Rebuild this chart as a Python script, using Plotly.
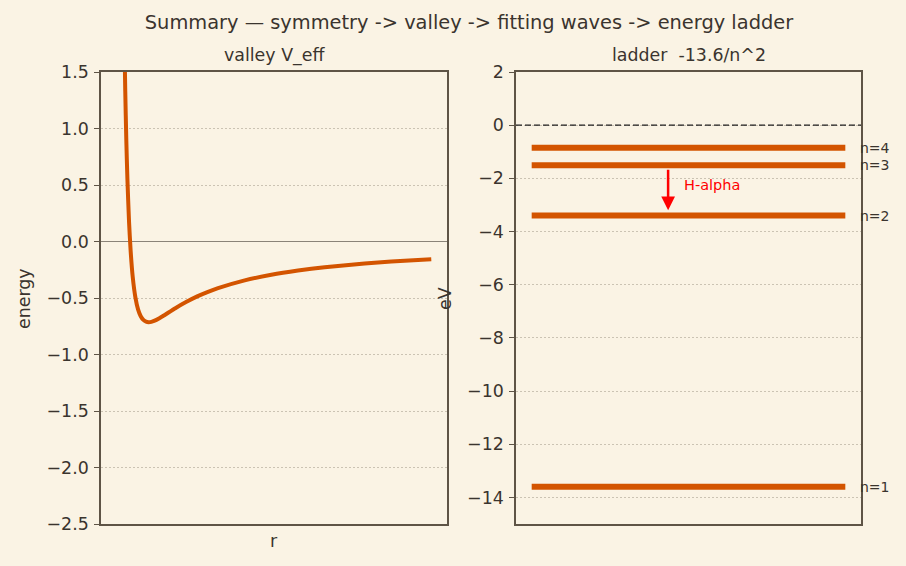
import plotly.graph_objects as go

# ---- data ----
r_vals = [0.22, 0.24, 0.26, 0.28, 0.30, 0.33, 0.36, 0.40, 0.45, 0.50, 0.55, 0.60, 0.65,
          0.70, 0.75, 0.80, 0.90, 1.0, 1.2, 1.4, 1.6, 1.8, 2.0, 2.5, 3.0, 3.5, 4.0,
          4.5, 5.0, 5.5, 6.0]
v_eff = [2.686, 1.910, 1.331, 0.893, 0.556, 0.184, -0.077, -0.313, -0.494, -0.600, -0.661, -0.694, -0.710,
         -0.714, -0.711, -0.703, -0.679, -0.650, -0.590, -0.536, -0.488, -0.448, -0.413, -0.344, -0.294,
         -0.257, -0.228, -0.205, -0.186, -0.170, -0.157]

levels_n = [1, 2, 3, 4]
levels_eV = [-13.6, -3.4, -1.51, -0.85]
level_labels = ["n=1", "n=2", "n=3", "n=4"]

left_ticks = [-2.5, -2.0, -1.5, -1.0, -0.5, 0.0, 0.5, 1.0, 1.5]
left_ticktext = ["\u22122.5", "\u22122.0", "\u22121.5", "\u22121.0", "\u22120.5", "0.0", "0.5", "1.0", "1.5"]
right_ticks = [-14, -12, -10, -8, -6, -4, -2, 0, 2]
right_ticktext = ["\u221214", "\u221212", "\u221210", "\u22128", "\u22126", "\u22124", "\u22122", "0", "2"]

# H-alpha transition (n=3 -> n=2)
halpha_x = 0.435
halpha_from = -1.62
halpha_to = -3.2

# ---- styles ----
BG = "#FAF3E4"
ORANGE = "#D35400"
TXT = "#3A342E"
SPINE = "#5E5446"
GRID = "#CBC3B3"
FONT = "DejaVu Sans"

W, H = 906, 566
L_DOM = [101 / W, 447 / W]
R_DOM = [516 / W, 861 / W]
Y_DOM = [1 - 524 / H, 1 - 72 / H]

fig = go.Figure()

fig.add_trace(go.Scatter(x=r_vals, y=v_eff, mode="lines",
                         line=dict(color=ORANGE, width=4, shape="spline", smoothing=0.6),
                         xaxis="x", yaxis="y", showlegend=False, hoverinfo="skip"))

# zero reference line on right
fig.add_trace(go.Scatter(x=[-0.05, 1.05], y=[0, 0], mode="lines",
                         line=dict(color="#1E1E1E", width=1.2, dash="6px,3px"),
                         xaxis="x2", yaxis="y2", showlegend=False, hoverinfo="skip"))

for E in levels_eV:
    fig.add_trace(go.Scatter(x=[0, 1], y=[E, E], mode="lines", line=dict(color=ORANGE, width=6),
                             xaxis="x2", yaxis="y2", showlegend=False, hoverinfo="skip"))

annotations = []
for E, lab in zip(levels_eV, level_labels):
    annotations.append(dict(x=1.05, y=E, xref="x2", yref="y2", text=lab, showarrow=False, xshift=-3,
                            xanchor="left", yanchor="middle", font=dict(family=FONT, size=14, color=TXT)))

annotations.append(dict(x=halpha_x, y=halpha_to, ax=halpha_x, ay=halpha_from, xref="x2", yref="y2",
                        axref="x2", ayref="y2", text="", showarrow=True, arrowhead=2, arrowsize=1.1,
                        arrowwidth=2.5, arrowcolor="#FF0000"))
annotations.append(dict(x=halpha_x + 0.045, y=-2.25, xref="x2", yref="y2", text="H-alpha", showarrow=False,
                        xanchor="left", yanchor="middle", font=dict(family=FONT, size=14.5, color="#FF0000")))

# subplot titles
annotations.append(dict(x=274 / W, y=1 - 55 / H, xref="paper", yref="paper", text="valley V_eff",
                        showarrow=False, xanchor="center", yanchor="middle", font=dict(family=FONT, size=17.4, color=TXT)))
annotations.append(dict(x=688.5 / W, y=1 - 55 / H, xref="paper", yref="paper", text="ladder  -13.6/n^2",
                        showarrow=False, xanchor="center", yanchor="middle", font=dict(family=FONT, size=17.4, color=TXT)))

# axis labels
annotations.append(dict(x=274 / W, y=1 - 541 / H, xref="paper", yref="paper", text="r",
                        showarrow=False, xanchor="center", yanchor="middle", font=dict(family=FONT, size=17.4, color=TXT)))
annotations.append(dict(x=24 / W, y=1 - 299 / H, xref="paper", yref="paper", text="energy", textangle=-90,
                        showarrow=False, xanchor="center", yanchor="middle", font=dict(family=FONT, size=17.4, color=TXT)))
annotations.append(dict(x=445 / W, y=1 - 299 / H, xref="paper", yref="paper", text="eV", textangle=-90,
                        showarrow=False, xanchor="center", yanchor="middle", font=dict(family=FONT, size=17.4, color=TXT)))

axis_common = dict(showline=True, mirror=True, linecolor=SPINE, linewidth=1.5, automargin=False,
                   tickfont=dict(family=FONT, size=17.4, color=TXT))

fig.update_layout(
    width=W, height=H, paper_bgcolor=BG, plot_bgcolor=BG,
    margin=dict(l=0, r=0, t=0, b=0, autoexpand=False),
    font=dict(family=FONT, color=TXT),
    title=dict(text="Summary \u2014 symmetry -> valley -> fitting waves -> energy ladder",
               x=469 / W, xanchor="center", y=1 - 22 / H, yanchor="middle", automargin=False,
               font=dict(family=FONT, size=19.4, color=TXT)),
    xaxis=dict(domain=L_DOM, range=[-0.195, 6.295], showticklabels=False, ticks="",
               showgrid=False, zeroline=False, **axis_common),
    yaxis=dict(domain=Y_DOM, range=[-2.5, 1.5], tickvals=left_ticks, ticktext=left_ticktext,
               ticks="outside", ticklen=5, tickcolor=SPINE, tickwidth=1.3, ticklabelstandoff=2,
               showgrid=True, gridcolor=GRID, griddash="1.5px,2.5px", gridwidth=1,
               zeroline=True, zerolinecolor="#8A8378", zerolinewidth=1, **axis_common),
    xaxis2=dict(domain=R_DOM, range=[-0.05, 1.05], showticklabels=False, ticks="",
                showgrid=False, zeroline=False, anchor="y2", **axis_common),
    yaxis2=dict(domain=Y_DOM, range=[-15, 2], tickvals=right_ticks, ticktext=right_ticktext,
                ticks="outside", ticklen=5, tickcolor=SPINE, tickwidth=1.3, ticklabelstandoff=2,
                showgrid=True, gridcolor=GRID, griddash="1.5px,2.5px", gridwidth=1, zeroline=False, anchor="x2",
                **axis_common),
    annotations=annotations,
)

fig.write_html("out.html")
